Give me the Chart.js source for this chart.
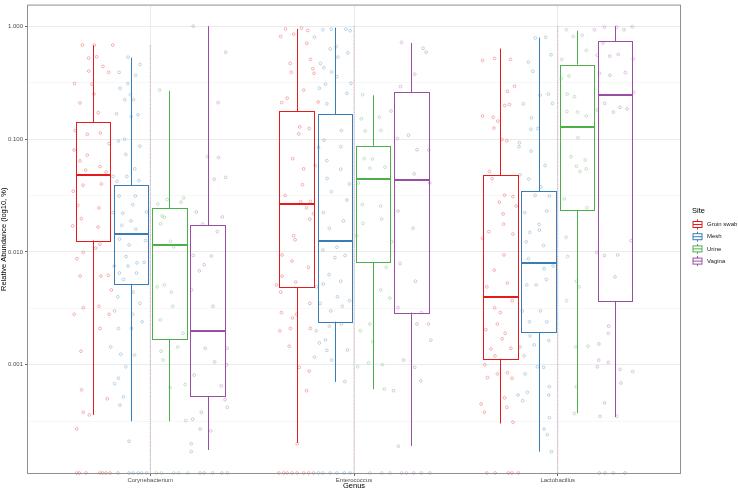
<!DOCTYPE html>
<html>
<head>
<meta charset="utf-8">
<script src="https://cdn.jsdelivr.net/npm/chart.js@4"></script>
<style>
  html, body { margin: 0; padding: 0; background: #fff; }
</style>
</head>
<body>
<canvas id="boxChart" width="738" height="491"></canvas>
<script>
// categories and groups
const genera = ['Corynebacterium', 'Enterococcus', 'Lactobacillus'];
const sites = ['Groin swab', 'Mesh', 'Urine', 'Vagina'];

// y axis ticks (major labelled, minor only as grid)
const yMajorTicks = [0.001, 0.01, 0.1, 1];
const yMinorTicks = [0.000316, 0.00316, 0.0316, 0.316];

// box stats per genus: [lower whisker, q1, median, q3, upper whisker]
const groinBox = [[3.6e-4, 0.0126, 0.048, 0.1415, 0.676], [2.04e-4, 0.00488, 0.0267, 0.1766, 0.947], [3.02e-4, 0.00113, 0.0040, 0.0476, 0.633]];
const meshBox = [[3.16e-4, 0.00521, 0.0145, 0.0389, 0.525], [7.05e-4, 0.00241, 0.0126, 0.166, 0.97], [1.70e-4, 0.00194, 0.0079, 0.0345, 0.79]];
const urineBox = [[3.16e-4, 0.00169, 0.0116, 0.0245, 0.267], [6.07e-4, 0.00807, 0.0445, 0.0871, 0.244], [3.74e-4, 0.0233, 0.127, 0.455, 0.91]];
const vaginaBox = [[1.76e-4, 5.24e-4, 0.00198, 0.0172, 1.0], [1.91e-4, 0.0029, 0.0433, 0.259, 0.71], [3.45e-4, 0.00368, 0.247, 0.739, 1.0]];

// jittered samples: [jitter, abundance]
const groinCoryne = [[-0.052,0.68],[0.006,0.68],[0.097,0.68],[-0.021,0.52],[0.018,0.535],[0.049,0.44],[-0.021,0.40],[0.077,0.39],[-0.091,0.31],[-0.005,0.306],[0.005,0.25],[-0.064,0.209],[0.026,0.171],[-0.088,0.119],[-0.028,0.110],[0.036,0.113],[0.079,0.091],[-0.093,0.080],[-0.028,0.072],[-0.064,0.064],[0.034,0.057],[-0.036,0.053],[0.064,0.051],[-0.049,0.039],[0.041,0.040],[-0.097,0.0345],[-0.075,0.0258],[0.029,0.0245],[-0.057,0.0197],[-0.100,0.017],[0.025,0.0166],[0.034,0.0117],[0.013,0.0108],[-0.079,0.0087],[-0.048,0.0099],[-0.063,0.0061],[0.039,0.0061],[0.075,0.0062],[0.090,0.0046],[0.029,0.0033],[-0.048,0.0032],[-0.092,0.0028],[0.079,0.0028],[0.034,0.0021],[-0.059,0.00132],[-0.056,0.0006],[0.070,0.0005],[-0.048,0.00038],[-0.018,0.00036],[-0.080,0.00027]];
const meshCoryne = [[-0.015,0.531],[0.043,0.458],[-0.059,0.39],[0.023,0.367],[-0.016,0.31],[-0.054,0.281],[-0.003,0.247],[-0.031,0.223],[0.012,0.223],[-0.072,0.167],[0,0.158],[0.034,0.164],[-0.062,0.096],[-0.032,0.0996],[0.043,0.0865],[-0.026,0.073],[0.018,0.0544],[-0.088,0.0467],[-0.021,0.0467],[-0.069,0.0422],[0.038,0.0428],[-0.059,0.0312],[0.021,0.0312],[0.008,0.0262],[-0.088,0.0223],[-0.041,0.022],[0.076,0.0226],[-0.001,0.0188],[-0.046,0.0172],[0.023,0.0159],[-0.057,0.013],[0.071,0.0126],[-0.010,0.0115],[-0.025,0.0091],[0.029,0.008],[-0.083,0.0075],[-0.015,0.0075],[0.064,0.0081],[-0.057,0.0065],[0.026,0.0065],[-0.037,0.0057],[0.010,0.0044],[-0.065,0.004],[0.043,0.0035],[-0.081,0.003],[0.007,0.0028],[-0.062,0.0021],[0.002,0.0021],[0.054,0.0024],[-0.100,0.00144],[-0.051,0.00124],[0.017,0.00122],[-0.026,0.00096],[-0.081,0.00068],[-0.062,0.00076],[-0.037,0.00052],[-0.055,0.00044],[-0.010,0.00021]];
const urineCoryne = [[-0.048,0.271],[-0.011,0.0291],[0.057,0.0276],[0.070,0.0301],[-0.057,0.0265],[-0.036,0.0208],[-0.025,0.0203],[-0.043,0.0177],[0.005,0.0124],[0.021,0.0111],[-0.060,0.0049],[-0.025,0.0051],[0.010,0.0044],[0.016,0.0033],[-0.044,0.0025],[0.067,0.0019],[0.041,0.00144],[-0.041,0.00132],[-0.031,0.0011],[0.003,0.00063],[0.077,0.00067],[0.080,0.00032]];
const vaginaCoryne = [[-0.070,1.0],[0.089,0.587],[0.052,0.21],[0.001,0.0698],[0.054,0.0685],[0.033,0.044],[0.089,0.0457],[0.073,0.0204],[-0.055,0.0226],[-0.024,0.0176],[0.048,0.0151],[-0.070,0.0093],[0.019,0.0092],[-0.016,0.0077],[-0.040,0.0068],[-0.078,0.0046],[0.027,0.0033],[-0.011,0.0014],[0.035,0.00106],[-0.065,0.00081],[0.068,0.00065],[0.094,0.001],[0.096,0.0014],[0.086,0.00049],[0.097,0.00042],[-0.030,0.00038],[-0.073,0.00033],[0.016,0.00026],[-0.036,0.00027],[-0.080,0.0002],[-0.080,0.00017]];

const groinEntero = [[-0.055,0.946],[-0.079,0.81],[-0.015,0.85],[0.023,0.96],[0.054,0.915],[0.049,0.705],[0.067,0.507],[-0.032,0.468],[-0.027,0.39],[0.085,0.382],[0.079,0.42],[-0.074,0.21],[-0.047,0.23],[0.034,0.271],[0.105,0.213],[0.015,0.128],[0.061,0.124],[0.010,0.111],[-0.020,0.067],[0.034,0.0544],[0.028,0.0394],[-0.057,0.0316],[0.020,0.0278],[0.067,0.028],[0.048,0.0245],[0.082,0.0218],[0.064,0.0195],[-0.015,0.0139],[-0.008,0.0128],[-0.072,0.0094],[-0.023,0.0083],[0.057,0.0073],[-0.072,0.0061],[-0.005,0.0054],[-0.100,0.0051],[-0.079,0.0044],[0.064,0.0035],[-0.075,0.0029],[-0.001,0.0028],[-0.021,0.0026],[-0.031,0.0021],[-0.083,0.002],[0.067,0.0021],[-0.037,0.00146],[0.012,0.00095],[0.061,0.00088],[0.048,0.00059],[0.002,0.0002]];
const meshEntero = [[-0.059,0.93],[-0.018,0.94],[0.054,0.94],[0.075,0.91],[-0.100,0.80],[0.006,0.659],[-0.023,0.629],[0.015,0.531],[-0.071,0.468],[-0.054,0.429],[-0.015,0.393],[0.010,0.357],[0.064,0.58],[-0.046,0.306],[0.079,0.312],[-0.076,0.282],[0.059,0.254],[-0.039,0.205],[0.032,0.119],[-0.053,0.0976],[0.029,0.0855],[-0.080,0.0843],[-0.039,0.0644],[-0.097,0.0582],[0.029,0.054],[-0.038,0.0448],[0.072,0.04],[-0.017,0.0342],[0.059,0.0288],[-0.056,0.0223],[0.042,0.0188],[-0.027,0.0162],[0.010,0.011],[-0.059,0.0104],[0,0.0089],[0.050,0.0093],[-0.028,0.0063],[-0.057,0.0052],[0.029,0.0055],[-0.090,0.0049],[0.013,0.004],[0.072,0.0037],[-0.072,0.0035],[-0.020,0.003],[0.037,0.0033],[-0.027,0.0022],[0.032,0.0023],[-0.092,0.002],[-0.046,0.00166],[-0.076,0.00156],[-0.039,0.00134],[0.062,0.00135],[-0.100,0.00117],[-0.015,0.0011],[0.049,0.00071]];
const urineEntero = [[-0.052,0.247],[-0.058,0.151],[-0.039,0.118],[0.030,0.156],[0.038,0.119],[-0.004,0.0665],[-0.044,0.067],[0.058,0.0563],[-0.016,0.0552],[-0.073,0.0408],[-0.053,0.0263],[0.037,0.0255],[-0.050,0.0179],[0.042,0.0195],[-0.080,0.0139],[0.064,0.0073],[0.037,0.0046],[0.082,0.0039],[-0.016,0.0023],[-0.063,0.002],[-0.002,0.0016],[-0.022,0.00104],[0.045,0.001],[-0.076,0.00096],[0.055,0.00061]];
const vaginaEntero = [[-0.048,0.718],[0.058,0.637],[0.073,0.588],[0.017,0.375],[-0.053,0.292],[-0.099,0.177],[-0.068,0.101],[-0.014,0.108],[0.028,0.0804],[0.086,0.08],[0.014,0.0492],[0.091,0.0408],[-0.065,0.023],[0.009,0.0162],[-0.097,0.0123],[-0.055,0.0079],[0.021,0.0055],[-0.065,0.0032],[0.050,0.0029],[0.028,0.0023],[0.084,0.0023],[0.096,0.00165],[-0.037,0.0011],[0.017,0.00095],[0.047,0.00072],[-0.087,0.00059],[-0.063,0.00019]];

const groinLacto = [[-0.088,0.497],[-0.029,0.517],[0.049,0.507],[0.069,0.294],[0.034,0.264],[-0.088,0.16],[-0.036,0.156],[-0.013,0.144],[-0.032,0.125],[0.021,0.198],[0.044,0.202],[0.007,0.099],[0.031,0.0964],[-0.054,0.0516],[-0.041,0.0445],[0.020,0.0318],[0.061,0.0309],[-0.006,0.0276],[0.013,0.0217],[0.077,0.0255],[0.015,0.0176],[-0.057,0.0151],[0.061,0.0144],[-0.088,0.0132],[0.017,0.0094],[-0.031,0.0069],[-0.067,0.0049],[0.034,0.0053],[0.057,0.0037],[-0.029,0.0032],[-0.001,0.0029],[-0.072,0.00205],[-0.015,0.0023],[0.023,0.0019],[0.008,0.0017],[0.051,0.0014],[-0.047,0.00138],[-0.027,0.0012],[-0.077,0.001],[-0.015,0.00083],[0.034,0.00085],[-0.064,0.00077],[0.057,0.00076],[0.020,0.00051],[-0.095,0.00045],[0.031,0.00042],[-0.079,0.00038],[0.061,0.00031]];
const meshLacto = [[-0.016,0.785],[0.035,0.795],[0.061,0.557],[-0.050,0.48],[-0.028,0.398],[0.007,0.245],[0.048,0.25],[0.068,0.207],[-0.075,0.205],[-0.035,0.154],[-0.004,0.124],[-0.038,0.122],[-0.094,0.0927],[-0.096,0.0855],[-0.037,0.0782],[0.032,0.0582],[-0.048,0.0442],[-0.091,0.0482],[0.011,0.0376],[-0.017,0.0316],[0.053,0.0312],[-0.068,0.0223],[0.002,0.0175],[0.040,0.023],[-0.043,0.0149],[0.004,0.0156],[-0.061,0.0123],[0.024,0.0114],[-0.050,0.0087],[0.027,0.0071],[0.071,0.0075],[-0.058,0.0051],[-0.012,0.0051],[0.038,0.0057],[-0.080,0.003],[0.009,0.003],[-0.045,0.0024],[0.040,0.0024],[-0.042,0.0018],[-0.091,0.00144],[-0.021,0.0015],[0.050,0.00164],[-0.071,0.0012],[-0.006,0.00096],[0.024,0.00095],[-0.066,0.00083],[0.053,0.00064],[-0.055,0.00057],[0.050,0.00054],[-0.101,0.00054],[-0.078,0.00048],[0.053,0.00034],[0.027,0.00027],[0.043,0.00024],[0.063,0.00017]];
const urineLacto = [[-0.051,0.93],[-0.018,0.81],[0.046,0.61],[-0.074,0.507],[0.026,0.83],[-0.077,0.343],[-0.039,0.362],[-0.048,0.25],[-0.012,0.237],[-0.049,0.175],[0.003,0.173],[0.046,0.16],[0.005,0.103],[-0.029,0.0698],[0.041,0.0652],[-0.002,0.0574],[0.015,0.0516],[0.046,0.0544],[-0.062,0.0295],[0.049,0.0246],[-0.053,0.0135],[-0.046,0.0091],[-0.003,0.0055],[0.011,0.0049],[-0.051,0.0037],[-0.005,0.00144],[0.054,0.00146],[-0.003,0.00064],[-0.012,0.00037]];
const vaginaLacto = [[-0.101,0.93],[-0.052,0.98],[0.008,0.98],[0.044,0.93],[0.085,0.986],[-0.059,0.71],[-0.026,0.542],[0.016,0.561],[-0.087,0.553],[-0.077,0.38],[-0.025,0.367],[0.051,0.388],[0.090,0.514],[-0.051,0.207],[-0.008,0.173],[0.025,0.191],[0.059,0.185],[0.092,0.259],[-0.087,0.181],[0.079,0.0126],[-0.090,0.0099],[-0.052,0.0093],[0.013,0.0094],[0,0.006],[-0.031,0.0022],[-0.033,0.0019],[-0.079,0.00153],[-0.080,0.0011],[-0.033,0.00105],[-0.087,0.00096],[0.025,0.00091],[0.087,0.00087],[0.029,0.00069],[-0.052,0.00046],[-0.074,0.00035],[0.008,0.00035]];

// samples with zero abundance (drawn on the bottom edge), jitter only
const groinZeros = [[-0.08,-0.067,-0.034,0.034,0.047,0.064,0.084], [-0.088,-0.064,-0.047,-0.023,0.002,0.034,0.059,0.083], [-0.067,-0.026,0.039,0.056,0.088]];
const meshZeros = [[-0.064,-0.01,0.01,0.034,0.051,0.076], [-0.080,-0.059,-0.023,0.01,0.046,0.075], []];
const urineZeros = [[-0.064,-0.039,0.021,0.045,0.09], [-0.016,0.042,0.083], []];
const vaginaZeros = [[-0.037,-0.017,0.025,0.07,0.098], [-0.048,-0.024,0.012,0.05,0.091], [-0.077,-0.049,-0.008,0.049]];

// top of the undodged sample column at each genus centre
const centerTop = [0.68, 1.0, 1.0];

const siteBoxes = [groinBox, meshBox, urineBox, vaginaBox];
const sitePoints = [
  [groinCoryne, groinEntero, groinLacto],
  [meshCoryne, meshEntero, meshLacto],
  [urineCoryne, urineEntero, urineLacto],
  [vaginaCoryne, vaginaEntero, vaginaLacto]
];
const siteZeros = [groinZeros, meshZeros, urineZeros, vaginaZeros];

// styling
const siteColors = ['#E41A1C', '#377EB8', '#4DAF4A', '#984EA3'];
const siteFaded = ['rgba(228,26,28,0.45)', 'rgba(55,126,184,0.45)', 'rgba(77,175,74,0.45)', 'rgba(152,78,163,0.45)'];
const dodge = [-0.281, -0.094, 0.094, 0.281];
const boxWidth = 0.17;
const yMin = 1.1e-4;
const yMax = 1.52;
const fontFamily = "'Liberation Sans', Arial, sans-serif";

/**
 * Build the scatter datasets, one per site
 */
const datasets = [];
sites.forEach((site, s) => {
  const pts = [];
  sitePoints[s].forEach((list, g) => {
    list.forEach(p => pts.push({ x: g + 1 + dodge[s] + p[0], y: p[1] }));
  });
  siteZeros[s].forEach((list, g) => {
    list.forEach(j => pts.push({ x: g + 1 + dodge[s] + j, y: yMin }));
  });
  datasets.push({
    type: 'scatter',
    label: site,
    data: pts,
    pointStyle: 'circle',
    pointRadius: 1.4,
    pointBorderWidth: 0.7,
    borderColor: siteFaded[s],
    backgroundColor: 'rgba(0,0,0,0)',
    clip: false
  });
});

/**
 * Dotted column of samples at each genus centre
 */
const centerData = [];
centerTop.forEach((top, g) => {
  centerData.push({ x: g + 1, y: top }, { x: g + 1, y: yMin }, { x: g + 1.5, y: null });
});
datasets.push({
  type: 'line', label: 'centre a', data: centerData, borderColor: 'rgba(228,26,28,0.45)',
  borderWidth: 0.8, borderDash: [1.5, 3], pointRadius: 0, spanGaps: false
});
datasets.push({
  type: 'line', label: 'centre b', data: centerData, borderColor: 'rgba(55,126,184,0.45)',
  borderWidth: 0.8, borderDash: [1.5, 3], borderDashOffset: 2.2, pointRadius: 0, spanGaps: false
});

/**
 * Boxes, whiskers and medians drawn through the scales
 */
const boxPlugin = {
  id: 'boxes',
  afterDatasetsDraw (chart) {
    const { ctx, scales: { x, y } } = chart;
    const snap = v => Math.round(v) + 0.5;
    ctx.save();
    siteBoxes.forEach((boxes, s) => {
      boxes.forEach((b, g) => {
        const cx = g + 1 + dodge[s];
        const xl = snap(x.getPixelForValue(cx - boxWidth / 2));
        const xr = snap(x.getPixelForValue(cx + boxWidth / 2));
        const xc = snap(x.getPixelForValue(cx));
        const [lo, q1, med, q3, hi] = b.map(v => y.getPixelForValue(v));
        ctx.strokeStyle = siteColors[s];
        ctx.lineWidth = 1;
        ctx.beginPath();
        ctx.moveTo(xc, hi); ctx.lineTo(xc, q3);
        ctx.moveTo(xc, q1); ctx.lineTo(xc, lo);
        ctx.stroke();
        ctx.strokeRect(xl, snap(q3), xr - xl, snap(q1) - snap(q3));
        ctx.lineWidth = 2;
        ctx.beginPath();
        ctx.moveTo(xl, Math.round(med)); ctx.lineTo(xr, Math.round(med));
        ctx.stroke();
      });
    });
    ctx.restore();
  },
  afterDraw (chart) {
    const { ctx, chartArea: a } = chart;
    ctx.save();
    // panel border
    ctx.strokeStyle = '#8f8f8f';
    ctx.lineWidth = 1;
    ctx.strokeRect(a.left - 0.5, a.top - 0.5, a.right - a.left + 1, a.bottom - a.top + 1);
    // legend
    ctx.fillStyle = '#000';
    ctx.textBaseline = 'middle';
    ctx.textAlign = 'left';
    ctx.font = '7.5px ' + fontFamily;
    ctx.fillText('Site', 692, 211);
    ctx.font = '6px ' + fontFamily;
    sites.forEach((site, s) => {
      const ky = 224.5 + s * 12.2;
      ctx.strokeStyle = siteColors[s];
      ctx.lineWidth = 1;
      ctx.beginPath();
      ctx.moveTo(697.5, ky - 5); ctx.lineTo(697.5, ky + 5);
      ctx.stroke();
      ctx.fillStyle = '#fff';
      ctx.fillRect(693, ky - 3, 9, 6);
      ctx.strokeRect(693, ky - 3, 9, 6);
      ctx.beginPath();
      ctx.moveTo(693, ky); ctx.lineTo(702, ky);
      ctx.stroke();
      ctx.fillStyle = '#1a1a1a';
      ctx.fillText(site, 707, ky);
    });
    ctx.restore();
  }
};

const minorSet = new Set(yMinorTicks);

const myChart = new Chart(document.getElementById('boxChart'), {
  type: 'scatter',
  data: { datasets: datasets },
  options: {
    responsive: false,
    animation: false,
    events: [],
    layout: { padding: { top: 1, right: 58, left: 0, bottom: 0 } },
    plugins: { legend: { display: false }, tooltip: { enabled: false } },
    scales: {
      x: {
        type: 'linear',
        min: 0.4,
        max: 3.6,
        afterBuildTicks: s => { s.ticks = genera.map((g, i) => ({ value: i + 1 })); },
        afterFit: s => { s.height = 18; },
        ticks: {
          callback: v => genera[Math.round(v) - 1],
          font: { family: fontFamily, size: 6 },
          color: '#4d4d4d',
          padding: 1,
          maxRotation: 0,
          autoSkip: false
        },
        grid: { color: '#ebebeb', lineWidth: 1, tickLength: 3, tickColor: '#666' },
        border: { display: false },
        title: { display: true, text: 'Genus', color: '#000', font: { family: fontFamily, size: 7.5, lineHeight: 1 }, padding: { top: 0, bottom: 1 } }
      },
      y: {
        type: 'logarithmic',
        min: yMin,
        max: yMax,
        afterBuildTicks: s => { s.ticks = yMinorTicks.concat(yMajorTicks).sort((a, b) => a - b).map(v => ({ value: v })); },
        afterFit: s => { s.width = 28; },
        ticks: {
          callback: v => minorSet.has(v) ? '' : v.toFixed(3),
          font: { family: fontFamily, size: 6 },
          color: '#4d4d4d',
          padding: 2,
          autoSkip: false
        },
        grid: {
          color: c => (c.tick && minorSet.has(c.tick.value)) ? '#f2f2f2' : '#ebebeb',
          lineWidth: c => (c.tick && minorSet.has(c.tick.value)) ? 0.6 : 1,
          tickColor: c => (c.tick && minorSet.has(c.tick.value)) ? 'rgba(0,0,0,0)' : '#666',
          tickLength: 3
        },
        border: { display: false },
        title: { display: true, text: 'Relative Abundance (log10, %)', color: '#000', font: { family: fontFamily, size: 7.5, lineHeight: 1 }, padding: { top: 0, bottom: 0 } }
      }
    }
  },
  plugins: [boxPlugin]
});
</script>
</body>
</html>
